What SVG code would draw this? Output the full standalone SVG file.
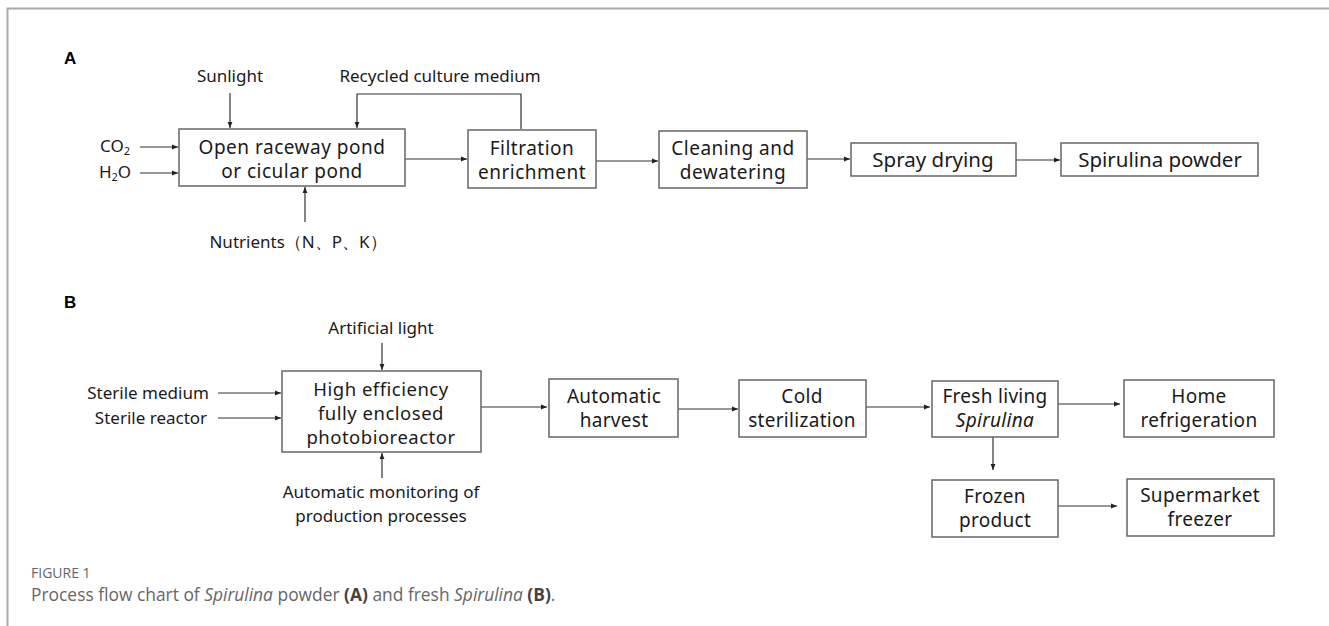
<svg xmlns="http://www.w3.org/2000/svg" width="1329" height="626" viewBox="0 0 1329 626">
<defs>
<marker id="ah" viewBox="0 0 10 10" refX="10" refY="5" markerWidth="6" markerHeight="6" markerUnits="userSpaceOnUse" orient="auto">
<path d="M0,1 L10,5 L0,9 Z" fill="#222"/>
</marker>
<style>
.box{fill:#fff;stroke:#666;stroke-width:1.5}
.t{font-family:"Noto Sans","Open Sans","Liberation Sans",sans-serif;fill:#1a1a1a;text-anchor:middle}
.big{font-size:20.5px}
.two{font-size:19px;letter-spacing:0.5px}
.mid{font-size:19px;letter-spacing:0.3px}
.pbr{font-size:18.5px;letter-spacing:0.5px}
.lab{font-size:17px}
.c{fill:none;stroke:#333;stroke-width:1.2}
.ar{marker-end:url(#ah)}
.panel{font-family:"Liberation Sans",Arial,sans-serif;font-weight:bold;font-size:17px;fill:#000}
.cap{font-family:"Open Sans","Noto Sans",sans-serif;fill:#666}
</style>
</defs>
<rect width="1329" height="626" fill="#fff"/>
<path d="M7.5,626 V8.5 H1329" fill="none" stroke="#aaa" stroke-width="2"/>

<text class="panel" x="64" y="64">A</text>
<text class="panel" x="64" y="308">B</text>

<g id="connectors">
<line class="c ar" x1="230" y1="93" x2="230" y2="128"/>
<path class="c ar" d="M521,129 V94 H357 V128"/>
<line class="c ar" x1="140" y1="147" x2="178" y2="147"/>
<line class="c ar" x1="140" y1="173" x2="178" y2="173"/>
<line class="c ar" x1="305" y1="222" x2="305" y2="187"/>
<line class="c ar" x1="405" y1="159" x2="467" y2="159"/>
<line class="c ar" x1="596" y1="161" x2="658" y2="161"/>
<line class="c ar" x1="807" y1="159" x2="850" y2="159"/>
<line class="c ar" x1="1016" y1="160" x2="1060" y2="160"/>

<line class="c ar" x1="382" y1="343" x2="382" y2="370"/>
<line class="c ar" x1="218" y1="393" x2="281" y2="393"/>
<line class="c ar" x1="218" y1="418" x2="281" y2="418"/>
<line class="c ar" x1="382" y1="478" x2="382" y2="453"/>
<line class="c ar" x1="481" y1="407" x2="547" y2="407"/>
<line class="c ar" x1="678" y1="409" x2="738" y2="409"/>
<line class="c ar" x1="866" y1="407" x2="930" y2="407"/>
<line class="c ar" x1="1058" y1="404" x2="1120" y2="404"/>
<line class="c ar" x1="993" y1="437" x2="993" y2="470"/>
<line class="c ar" x1="1058" y1="506" x2="1117" y2="506"/>
</g>

<g id="labels">
<text class="t lab" x="230" y="82">Sunlight</text>
<text class="t lab" x="440" y="82">Recycled culture medium</text>
<text class="t lab" x="115" y="152">CO<tspan font-size="11" dy="3">2</tspan></text>
<text class="t lab" x="115" y="178">H<tspan font-size="11" dy="3">2</tspan><tspan dy="-3">O</tspan></text>
<text class="t lab" x="298" y="248">Nutrients（N、P、K）</text>
<text class="t lab" x="381" y="334">Artificial light</text>
<text class="t lab" x="148" y="399">Sterile medium</text>
<text class="t lab" x="151" y="424">Sterile reactor</text>
<text class="t lab" x="381" y="498">Automatic monitoring of</text>
<text class="t lab" x="381" y="522">production processes</text>
</g>

<g id="n-pond"><rect class="box" x="179" y="129" width="226" height="57"/>
<text class="t two" x="292" y="154">Open raceway pond</text><text class="t two" x="292" y="178">or cicular pond</text></g>
<g id="n-filtration"><rect class="box" x="468" y="130" width="128" height="58"/>
<text class="t two" x="532" y="155">Filtration</text><text class="t two" x="532" y="179">enrichment</text></g>
<g id="n-cleaning"><rect class="box" x="659" y="131" width="148" height="57"/>
<text class="t two" x="733" y="155">Cleaning and</text><text class="t two" x="733" y="179">dewatering</text></g>
<g id="n-spray"><rect class="box" x="851" y="143" width="165" height="33"/>
<text class="t big" x="933" y="167">Spray drying</text></g>
<g id="n-powder"><rect class="box" x="1061" y="143" width="197" height="33"/>
<text class="t big" x="1160" y="167">Spirulina powder</text></g>

<g id="n-pbr"><rect class="box" x="282" y="371" width="199" height="81"/>
<text class="t pbr" x="381" y="396">High efficiency</text><text class="t pbr" x="381" y="420">fully enclosed</text><text class="t pbr" x="381" y="444">photobioreactor</text></g>
<g id="n-harvest"><rect class="box" x="549" y="379" width="129" height="58"/>
<text class="t mid" x="614" y="403">Automatic</text><text class="t mid" x="614" y="427">harvest</text></g>
<g id="n-cold"><rect class="box" x="739" y="380" width="127" height="57"/>
<text class="t mid" x="802" y="403">Cold</text><text class="t mid" x="802" y="427">sterilization</text></g>
<g id="n-fresh"><rect class="box" x="932" y="381" width="126" height="56"/>
<text class="t mid" x="995" y="403">Fresh living</text><text class="t mid" x="995" y="427" font-style="italic">Spirulina</text></g>
<g id="n-home"><rect class="box" x="1124" y="380" width="150" height="57"/>
<text class="t mid" x="1199" y="403">Home</text><text class="t mid" x="1199" y="427">refrigeration</text></g>
<g id="n-frozen"><rect class="box" x="932" y="480" width="126" height="57"/>
<text class="t mid" x="995" y="503">Frozen</text><text class="t mid" x="995" y="527">product</text></g>
<g id="n-super"><rect class="box" x="1127" y="479" width="147" height="57"/>
<text class="t mid" x="1200" y="502">Supermarket</text><text class="t mid" x="1200" y="526">freezer</text></g>

<g id="caption">
<text class="cap" x="31" y="578" font-size="14" fill="#777">FIGURE 1</text>
<text class="cap" x="31" y="601" font-size="17.4">Process flow chart of <tspan font-style="italic">Spirulina</tspan> powder <tspan font-weight="bold" fill="#444">(A)</tspan> and fresh <tspan font-style="italic">Spirulina</tspan> <tspan font-weight="bold" fill="#444">(B)</tspan>.</text>
</g>
</svg>
